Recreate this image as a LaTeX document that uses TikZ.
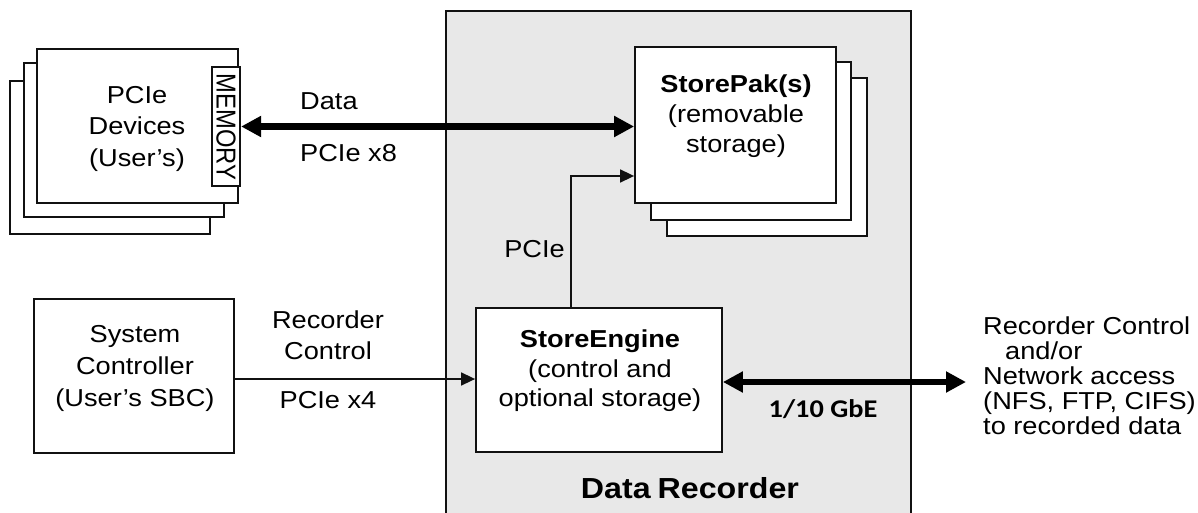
\documentclass[tikz,border=0pt]{standalone}
\usepackage{fontspec}
\usepackage{graphicx}
\setmainfont{Liberation Sans}[FakeStretch=1.11]
\newfontfamily\calfont{Carlito}[FakeStretch=1.11]
\newfontfamily\memfont{Liberation Sans}
\usetikzlibrary{arrows.meta}
\definecolor{recgray}{HTML}{E8E8E8}
\definecolor{edge}{HTML}{111111}
\tikzset{
  box/.style={draw=edge, fill=white, line width=1.8pt, inner sep=0pt},
  lbl/.style={font=\fontsize{24.5}{#1}\selectfont, align=center, inner sep=0pt},
  lbl/.default=31,
  thinarrow/.style={draw=edge, line width=1.6pt, -{Triangle[length=14pt,width=13pt]}},
  thickarrow/.style={draw=black, line width=6.5pt, {Triangle[length=20pt,width=20pt]}-{Triangle[length=20pt,width=20pt]}},
}
\begin{document}
\begin{tikzpicture}[x=1pt,y=-1pt]
\useasboundingbox (0,0) rectangle (1198,513);
% Data Recorder enclosure
\fill[recgray] (446,11) rectangle (911,525);
\draw[edge, line width=2.2pt] (446,525) -- (446,11) -- (911,11) -- (911,525);
\node[font=\bfseries\fontsize{29}{34}\selectfont, anchor=base, inner sep=0pt] (rec) at (690,498) {Data\kern-2pt\ Recorder};

% PCIe devices stack
\node[box, minimum width=200pt, minimum height=153pt] (pd3) at (110,157.5) {};
\node[box, minimum width=200pt, minimum height=154pt] (pd2) at (124,140) {};
\node[box, minimum width=201pt, minimum height=154pt] (pd1) at (137.5,126) {};
\node[lbl=31.5] (pdt) at (137,128.5) {PCIe\\Devices\\(User’s)};
\node[box, minimum width=28pt, minimum height=119pt, line width=2.2pt] (mem) at (226,126.5) {};
\node[rotate=-90, inner sep=0pt] (memt) at (226,127) {\scalebox{1}[1.15]{\memfont\fontsize{23.8}{28}\selectfont MEMORY}};

% StorePak stack
\node[box, minimum width=200pt, minimum height=158pt] (sp3) at (767,157) {};
\node[box, minimum width=200pt, minimum height=158pt] (sp2) at (751,141) {};
\node[box, minimum width=201pt, minimum height=156pt] (sp1) at (735.5,125) {};
\node[lbl=30] (spt) at (736,116.5) {\textbf{StorePak(s)}\\(removable\\storage)};

% StoreEngine
\node[box, minimum width=246pt, minimum height=144pt] (se) at (599,380) {};
\node[lbl=29.5] (set) at (600,371) {\textbf{StoreEngine}\\(control and\\optional storage)};

% System Controller
\node[box, minimum width=200pt, minimum height=154pt] (sc) at (134,376) {};
\node[lbl=32] (sct) at (135,368.5) {System\\Controller\\(User’s SBC)};

% Data link
\draw[thickarrow] (mem.east) -- (mem.east -| sp1.west);
\node[lbl, anchor=base west] (dl1) at (300,110) {Data};
\node[lbl, anchor=base west] (dl2) at (300,162) {PCIe x8};

% PCIe internal link
\coordinate (pcx) at (571,176);
\draw[thinarrow] (se.north -| pcx) |- (sp1.west |- pcx);
\node[lbl, anchor=base east] (pcl) at (565,257) {PCIe};

% Recorder control link
\coordinate (rcy) at (300,379);
\draw[thinarrow] (sc.east |- rcy) -- (se.west |- rcy);
\node[lbl=31] (rcl) at (328,335) {Recorder\\Control};
\node[lbl, anchor=base] (rcp) at (328,408) {PCIe x4};

% Network link
\coordinate (gend) at (966,382);
\draw[thickarrow] (se.east |- gend) -- (gend);
\node[font=\calfont\bfseries\fontsize{25.5}{30}\selectfont, anchor=base, inner sep=0pt] (gbl) at (823,417) {1/10 GbE};
\node[font=\fontsize{24.5}{25}\selectfont, align=left, anchor=west, inner sep=0pt] (net) at (983,375.6)
  {Recorder Control\\\hspace*{22pt}and/or\\Network access\\(NFS, FTP, CIFS)\\to recorded data};
\end{tikzpicture}
\end{document}
